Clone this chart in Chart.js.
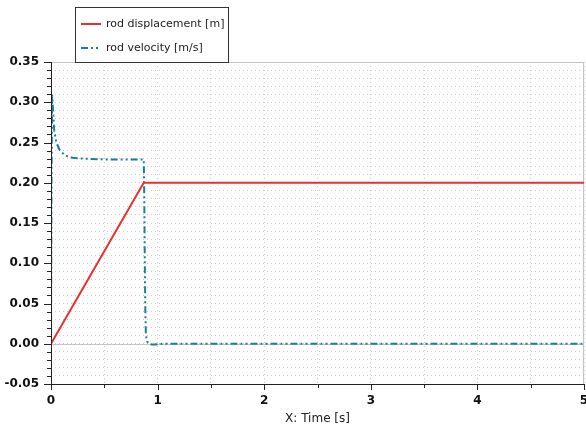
<!DOCTYPE html>
<html>
<head>
<meta charset="utf-8">
<script src="https://cdn.jsdelivr.net/npm/chart.js@4"></script>
<style>
  html, body { margin: 0; padding: 0; background: #fff; }
  #wrap { position: relative; width: 586px; height: 432px; }
</style>
</head>
<body>
<div id="wrap"><canvas id="myChart" width="586" height="432"></canvas></div>
<script>
// time [s] and values
const dispTime = [0, 0.87, 5];
const dispValues = [0, 0.2, 0.2];

const velTime = [0, 0.005, 0.01, 0.02, 0.03, 0.05, 0.08, 0.13, 0.2, 0.3, 0.5, 0.87, 0.875, 0.88, 0.885, 0.89, 0.9, 0.93, 0.97, 1.05, 5];
const velValues = [0, 0.2, 0.31, 0.29, 0.265, 0.25, 0.241, 0.234, 0.231, 0.23, 0.229, 0.229, 0.18, 0.1, 0.04, 0.012, 0.003, -0.001, -0.001, 0, 0];

const seriesLabels = ["rod displacement [m]", "rod velocity [m/s]"];
const xTicks = [0, 1, 2, 3, 4, 5];

const red = "#e8312f";
const teal = "#1e7d96";
const velDash = [7, 3, 2, 3, 2, 3];

function pts(xs, ys) {
  return xs.map((x, i) => ({ x: x, y: ys[i] }));
}

const frame = {
  id: "frame",
  beforeDatasetsDraw(chart) {
    const { ctx, chartArea: a, scales } = chart;
    ctx.save();
    // zero line
    const y0 = scales.y.getPixelForValue(0);
    ctx.strokeStyle = "#c4c4c4";
    ctx.lineWidth = 1;
    ctx.beginPath();
    ctx.moveTo(a.left, Math.round(y0) + 0.5);
    ctx.lineTo(a.right, Math.round(y0) + 0.5);
    // top and right border
    ctx.moveTo(a.left, a.top + 0.5);
    ctx.lineTo(a.right - 0.5, a.top + 0.5);
    ctx.lineTo(a.right - 0.5, a.bottom);
    ctx.stroke();
    ctx.restore();
  },
  afterDatasetsDraw(chart) {
    const { ctx, chartArea: a, scales } = chart;
    ctx.save();
    ctx.strokeStyle = "#222";
    ctx.lineWidth = 1;
    ctx.beginPath();
    // axis lines
    ctx.moveTo(a.left + 0.5, a.top);
    ctx.lineTo(a.left + 0.5, a.bottom + 0.5);
    ctx.lineTo(a.right, a.bottom + 0.5);
    // y ticks
    for (let i = -5; i <= 35; i++) {
      const y = Math.round(scales.y.getPixelForValue(i / 100)) + 0.5;
      const len = i % 5 === 0 ? 7 : 4;
      ctx.moveTo(a.left - len, y);
      ctx.lineTo(a.left, y);
    }
    // x ticks
    for (let i = 0; i <= 10; i++) {
      const x = Math.round(scales.x.getPixelForValue(i / 2)) + 0.5;
      const len = i % 2 === 0 ? 6 : 4;
      ctx.moveTo(x, a.bottom);
      ctx.lineTo(x, a.bottom + len);
    }
    ctx.stroke();

    // legend box
    const lx = 75, ly = 7, lw = 153, lh = 55;
    ctx.fillStyle = "#fff";
    ctx.fillRect(lx, ly, lw, lh);
    ctx.strokeStyle = "#333";
    ctx.strokeRect(lx + 0.5, ly + 0.5, lw, lh);
    ctx.font = "11px 'DejaVu Sans'";
    ctx.textBaseline = "middle";
    ctx.fillStyle = "#222";
    const rows = [
      { y: 24, color: red, dash: [] },
      { y: 48, color: teal, dash: velDash },
    ];
    rows.forEach((r, i) => {
      ctx.strokeStyle = r.color;
      ctx.lineWidth = 2;
      ctx.setLineDash(r.dash);
      ctx.beginPath();
      ctx.moveTo(81, r.y);
      ctx.lineTo(101, r.y);
      ctx.stroke();
      ctx.setLineDash([]);
      ctx.fillText(seriesLabels[i], 106, r.y);
    });
    ctx.restore();
  },
};

const ctx = document.getElementById("myChart");

new Chart(ctx, {
  type: "scatter",
  data: {
    datasets: [
      {
        label: seriesLabels[0],
        data: pts(dispTime, dispValues),
        showLine: true,
        borderColor: red,
        borderWidth: 2,
        pointRadius: 0,
        tension: 0,
      },
      {
        label: seriesLabels[1],
        data: pts(velTime, velValues),
        showLine: true,
        borderColor: teal,
        borderWidth: 2,
        borderDash: velDash,
        pointRadius: 0,
        tension: 0,
      },
    ],
  },
  options: {
    responsive: false,
    animation: false,
    layout: { padding: { top: 62, right: 2, left: 0, bottom: 0 } },
    plugins: {
      legend: { display: false },
      tooltip: { enabled: false },
    },
    scales: {
      x: {
        type: "linear",
        min: 0,
        max: 5,
        afterFit: (s) => {
          s.height = 48;
          s.paddingLeft = 0;
          s.paddingRight = 0;
        },
        afterBuildTicks: (s) => {
          s.ticks = [];
          for (let i = 0; i <= 10; i++) s.ticks.push({ value: i / 2 });
        },
        ticks: {
          autoSkip: false,
          maxRotation: 0,
          padding: 10,
          color: "#111",
          font: { family: "'DejaVu Sans'", size: 12, weight: "bold" },
          callback: (v) => (xTicks.includes(v) ? String(v) : ""),
        },
        grid: { color: "#cacaca", drawTicks: false, lineWidth: 1 },
        border: { display: false, dash: [1, 3] },
        title: {
          display: true,
          text: "X: Time [s]",
          color: "#222",
          font: { family: "'DejaVu Sans'", size: 12 },
          padding: { top: 2, bottom: 6 },
        },
      },
      y: {
        min: -0.05,
        max: 0.35,
        afterFit: (s) => { s.width = 51; },
        ticks: {
          stepSize: 0.01,
          autoSkip: false,
          padding: 12,
          color: "#111",
          font: { family: "'DejaVu Sans'", size: 12, weight: "bold" },
          callback: (v) => {
            const n = Math.round(v * 100);
            return n % 5 === 0 ? (n / 100).toFixed(2) : "";
          },
        },
        grid: { color: "#cacaca", drawTicks: false, lineWidth: 1 },
        border: { display: false, dash: [1, 3] },
      },
    },
  },
  plugins: [frame],
});
</script>
</body>
</html>
